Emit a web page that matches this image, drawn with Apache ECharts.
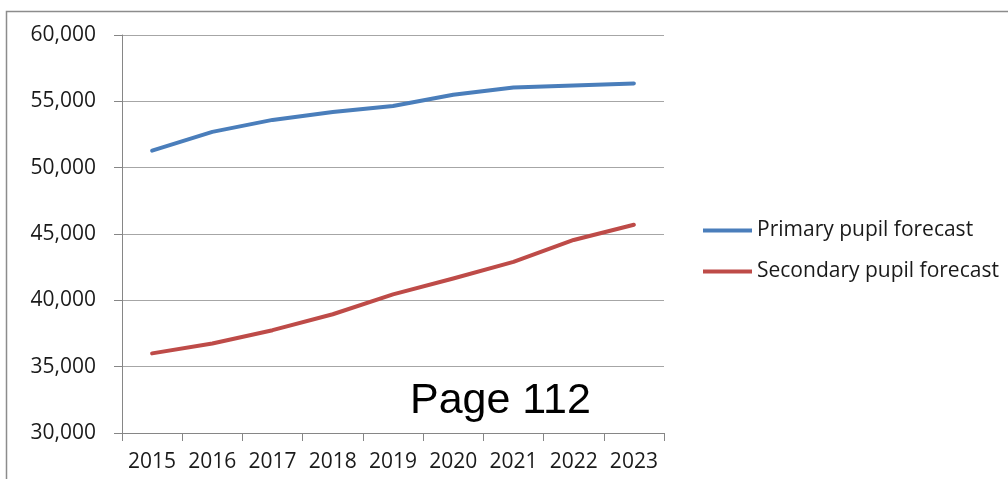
<!DOCTYPE html>
<html>
<head>
<meta charset="utf-8">
<script src="https://cdn.jsdelivr.net/npm/echarts@6/dist/echarts.min.js"></script>
<style>
  html, body { margin: 0; padding: 0; background: #fff; }
  #chart { width: 1008px; height: 479px; }
</style>
</head>
<body>
<div id="chart"></div>
<script>
// categories and series
var years = ['2015', '2016', '2017', '2018', '2019', '2020', '2021', '2022', '2023']
var primaryName = 'Primary pupil forecast'
var primary = [51280, 52700, 53600, 54200, 54650, 55500, 56050, 56200, 56350]
var secondaryName = 'Secondary pupil forecast'
var secondary = [36000, 36750, 37750, 38950, 40450, 41650, 42900, 44550, 45700]
var pageLabel = 'Page 112'

var chart = echarts.init(document.getElementById('chart'))
var axisGrey = '#868686'
var font = '"Open Sans", sans-serif'

chart.setOption({
  animation: false,
  color: ['#4A7EBB', '#BE4B48'],
  grid: {
    left: 122,
    right: 344,
    top: 35,
    bottom: 46
  },
  legend: {
    orient: 'vertical',
    left: 698,
    top: 215,
    icon: 'rect',
    itemWidth: 49,
    itemHeight: 4,
    itemGap: 20,
    data: [primaryName, secondaryName],
    textStyle: { fontFamily: font, fontSize: 21, color: '#1a1a1a' }
  },
  xAxis: {
    type: 'category',
    data: years,
    boundaryGap: true,
    axisLine: { lineStyle: { color: axisGrey, width: 1 } },
    axisTick: { show: true, interval: 0, length: 8, lineStyle: { color: axisGrey } },
    axisLabel: { interval: 0, fontFamily: font, fontSize: 21, color: '#1a1a1a', margin: 19 }
  },
  yAxis: {
    type: 'value',
    min: 30000,
    max: 60000,
    interval: 5000,
    axisLine: { show: true, lineStyle: { color: axisGrey, width: 1 } },
    axisTick: { show: true, length: 8, lineStyle: { color: axisGrey } },
    axisLabel: {
      fontFamily: font,
      fontSize: 21,
      color: '#1a1a1a',
      margin: 26,
      formatter: function (v) { return v.toLocaleString('en-US') }
    },
    splitLine: { show: true, lineStyle: { color: '#a6a6a6', width: 1 } }
  },
  series: [
    {
      name: primaryName,
      type: 'line',
      data: primary,
      showSymbol: false,
      lineStyle: { width: 4, cap: 'round', join: 'round' }
    },
    {
      name: secondaryName,
      type: 'line',
      data: secondary,
      showSymbol: false,
      lineStyle: { width: 4, cap: 'round', join: 'round' }
    }
  ],
  graphic: [
    {
      // frame of the pasted chart
      type: 'rect',
      silent: true,
      shape: { x: 6.5, y: 11.5, width: 1020, height: 490 },
      style: { fill: 'none', stroke: '#8c8c8c', lineWidth: 1.5 }
    },
    {
      type: 'text',
      left: 410,
      top: 380,
      silent: true,
      style: {
        text: pageLabel,
        fontFamily: '"Liberation Sans", Arial, sans-serif',
        fontSize: 43,
        fill: '#000'
      }
    }
  ]
})
</script>
</body>
</html>
